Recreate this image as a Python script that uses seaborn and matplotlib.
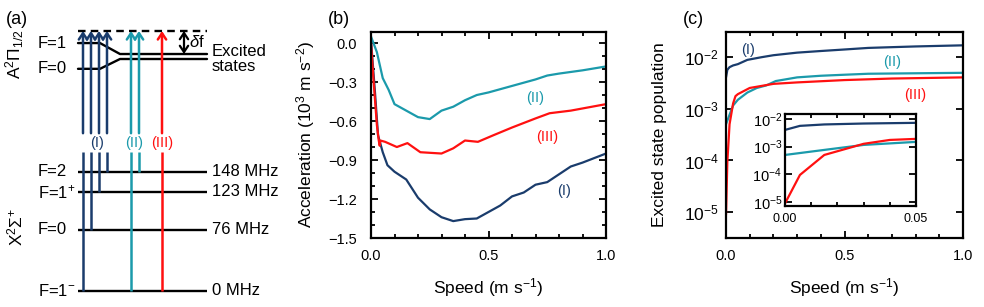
import matplotlib
matplotlib.use("Agg")
import matplotlib.pyplot as plt
import seaborn as sns
import pandas as pd
from matplotlib.ticker import MultipleLocator, LogLocator, NullLocator, FixedLocator

sns.set_style("ticks")
plt.rcParams['font.family'] = ['Liberation Sans', 'DejaVu Sans']
plt.rcParams['mathtext.fontset'] = 'custom'
plt.rcParams['mathtext.rm'] = 'Liberation Sans'
plt.rcParams['mathtext.it'] = 'Liberation Sans:italic'
plt.rcParams['mathtext.bf'] = 'Liberation Sans:bold'
plt.rcParams['axes.unicode_minus'] = True
for k in ['text.color', 'axes.labelcolor', 'xtick.color', 'ytick.color', 'axes.edgecolor']:
    plt.rcParams[k] = 'black'

NAVY = '#1a3c6c'
TEAL = '#1b9aab'
RED = '#ff1010'

# ---------------- panel (a) data: level diagram ----------------
ground_labels = ["F=1$^{-}$", "F=0", "F=1$^{+}$", "F=2"]
ground_mhz = [0, 76, 123, 148]
ground_text = ["0 MHz", "76 MHz", "123 MHz", "148 MHz"]
excited_labels = ["F=1", "F=0"]
# transitions: (ground level index, laser group)
trans_level = [0, 1, 2, 3, 0, 3, 0]
trans_group = ["I", "I", "I", "I", "II", "II", "III"]
group_names = ["(I)", "(II)", "(III)"]

# ---------------- panel (b) data ----------------
speed_b1 = [0, 0.017, 0.03, 0.05, 0.07, 0.1, 0.15, 0.2, 0.25, 0.3, 0.35, 0.4, 0.45,
            0.5, 0.55, 0.6, 0.65, 0.7, 0.75, 0.8, 0.85, 0.9, 1.0]
acc_b1 = [0.02, -0.38, -0.71, -0.84, -0.94, -0.99, -1.05, -1.19, -1.28, -1.34, -1.37,
          -1.355, -1.35, -1.30, -1.25, -1.18, -1.15, -1.09, -1.07, -1.01, -0.95, -0.92, -0.85]
speed_b2 = [0, 0.025, 0.05, 0.075, 0.1, 0.15, 0.2, 0.25, 0.3, 0.35, 0.4, 0.45, 0.5,
            0.6, 0.7, 0.75, 0.8, 0.9, 1.0]
acc_b2 = [0.05, -0.07, -0.27, -0.36, -0.47, -0.52, -0.57, -0.585, -0.52, -0.49, -0.44,
          -0.40, -0.38, -0.33, -0.28, -0.25, -0.235, -0.21, -0.18]
speed_b3 = [0, 0.01, 0.025, 0.033, 0.037, 0.04, 0.06, 0.11, 0.155, 0.21, 0.3, 0.35,
            0.4, 0.455, 0.52, 0.6, 0.7, 0.76, 0.85, 1.0]
acc_b3 = [0.0, -0.27, -0.63, -0.75, -0.79, -0.75, -0.76, -0.80, -0.77, -0.84, -0.85,
          -0.81, -0.75, -0.76, -0.71, -0.65, -0.58, -0.54, -0.52, -0.47]

# ---------------- panel (c) data ----------------
speed_c1 = [0, 0.0057, 0.015, 0.03, 0.05, 0.09, 0.15, 0.2, 0.3, 0.4, 0.5, 0.6, 0.7, 0.8, 0.9, 1.0]
pop_c1 = [4.0e-3, 5.6e-3, 6.3e-3, 6.8e-3, 7.2e-3, 8.7e-3, 9.8e-3, 1.07e-2, 1.2e-2, 1.29e-2,
          1.38e-2, 1.48e-2, 1.53e-2, 1.58e-2, 1.62e-2, 1.66e-2]
speed_c2 = [0, 0.015, 0.03, 0.05, 0.09, 0.13, 0.17, 0.21, 0.3, 0.4, 0.5, 0.6, 0.8, 1.0]
pop_c2 = [5.0e-4, 7.6e-4, 1.15e-3, 1.48e-3, 2.04e-3, 2.5e-3, 2.8e-3, 3.4e-3, 4.0e-3, 4.3e-3,
          4.5e-3, 4.7e-3, 4.8e-3, 4.9e-3]
speed_c3 = [0, 0.0057, 0.015, 0.03, 0.04, 0.05, 0.1, 0.2, 0.3, 0.5, 0.7, 1.0]
pop_c3 = [8.9e-6, 9.5e-5, 5.0e-4, 1.26e-3, 1.74e-3, 1.9e-3, 2.5e-3, 3.0e-3, 3.2e-3,
          3.55e-3, 3.8e-3, 4.0e-3]

W, H = 984, 307
fig = plt.figure(figsize=(W / 100, H / 100), dpi=100)

FS_TICK = 10.5
FS_LAB = 12.5
FS_LEVEL = 12
FS_TAG = 10.5


def style_axes(ax, pad_x=8, pad_y=8, fs=FS_TICK, fsy=None):
    for s in ax.spines.values():
        s.set_linewidth(1.6)
        s.set_color('black')
    ax.tick_params(which='both', direction='in', top=True, right=True, width=1.3,
                   colors='black', labelsize=fs)
    ax.tick_params(which='major', length=5)
    ax.tick_params(which='minor', length=3)
    ax.tick_params(axis='x', which='both', pad=pad_x)
    ax.tick_params(axis='y', which='both', pad=pad_y)
    if fsy is not None:
        ax.tick_params(axis='y', labelsize=fsy)


# ================= panel (a) =================
axA = fig.add_axes([0, 0, 280 / W, 1])
axA.set_xlim(0, 280)
axA.set_ylim(-19.9, 361.5)
axA.axis('off')
LX0, LX1 = 78, 207
lw = 1.7
axA.hlines(ground_mhz, LX0, LX1, color='black', lw=lw)
for lab, y, t in zip(ground_labels, ground_mhz, ground_text):
    axA.text(38, y, lab, ha='left', va='center', fontsize=FS_LEVEL)
    axA.text(212, y, t, ha='left', va='center', fontsize=FS_LEVEL)
# excited states (schematic)
y_top = 323
y_F1, y_F0 = 308, 276
y_m1, y_m0 = 294.4, 288.2
axA.plot([LX0, 100, 120, LX1], [y_F1, y_F1, y_m1, y_m1], color='black', lw=lw)
axA.plot([LX0, 100, 120, LX1], [y_F0, y_F0, y_m0, y_m0], color='black', lw=lw)
axA.text(38, y_F1, excited_labels[0], ha='left', va='center', fontsize=FS_LEVEL)
axA.text(38, y_F0, excited_labels[1], ha='left', va='center', fontsize=FS_LEVEL)
axA.plot([LX0, LX1], [y_top, y_top], color='black', lw=lw, ls=(0, (3.2, 2.2)))
axA.annotate('', xy=(184, y_top), xytext=(184, y_m1),
             arrowprops=dict(arrowstyle='<->,head_length=0.45,head_width=0.3',
                             lw=1.6, color='black', shrinkA=0, shrinkB=0))
axA.text(189, 309, r'$\delta$f', ha='left', va='center', fontsize=FS_LEVEL)
axA.text(212, 297, 'Excited', ha='left', va='center', fontsize=FS_LEVEL)
axA.text(212, 279, 'states', ha='left', va='center', fontsize=FS_LEVEL)
axA.text(15, 294, r'A$^2\Pi_{1/2}$', rotation=90, ha='center', va='center', fontsize=12.5)
axA.text(15, 80, r'X$^2\Sigma^{+}$', rotation=90, ha='center', va='center', fontsize=12.5)

gcol = {"I": NAVY, "II": TEAL, "III": RED}
trans_x = [83, 91, 99, 107, 131, 139, 162]
for x, li, g in zip(trans_x, trans_level, trans_group):
    c = gcol[g]
    axA.vlines(x, ground_mhz[li], 172.7, color=c, lw=1.8)
    axA.annotate('', xy=(x, y_top), xytext=(x, 196),
                 arrowprops=dict(arrowstyle='->,head_length=0.45,head_width=0.3',
                                 lw=1.8, color=c, shrinkA=0, shrinkB=0))
for name, x, c in zip(group_names, [97, 134, 162], [NAVY, TEAL, RED]):
    axA.text(x, 184, name, ha='center', va='center', fontsize=FS_TAG, color=c)

# ================= panel (b) =================
axB = fig.add_axes([371 / W, 1 - 238 / H, 235 / W, 206 / H])
for sp, ac, c in [(speed_b1, acc_b1, NAVY), (speed_b2, acc_b2, TEAL), (speed_b3, acc_b3, RED)]:
    sns.lineplot(x=sp, y=ac, ax=axB, color=c, lw=1.6, sort=False, estimator=None)
axB.set_xlim(0, 1)
axB.set_ylim(-1.5, 0.085)
axB.xaxis.set_major_locator(MultipleLocator(0.5))
axB.xaxis.set_minor_locator(MultipleLocator(0.1))
axB.yaxis.set_major_locator(MultipleLocator(0.3))
axB.yaxis.set_minor_locator(MultipleLocator(0.1))
style_axes(axB, pad_x=8, pad_y=10)
axB.set_xlabel('Speed (m s$^{-1}$)', fontsize=FS_LAB, labelpad=9)
axB.set_ylabel('Acceleration (10$^{3}$ m s$^{-2}$)', fontsize=FS_LAB, labelpad=8)
axB.text(0.70, -0.42, '(II)', color=TEAL, ha='center', va='center', fontsize=FS_TAG)
axB.text(0.75, -0.72, '(III)', color=RED, ha='center', va='center', fontsize=FS_TAG)
axB.text(0.82, -1.14, '(I)', color=NAVY, ha='center', va='center', fontsize=FS_TAG)

# ================= panel (c) =================
axC = fig.add_axes([726 / W, 1 - 238 / H, 237 / W, 206 / H])
series_c = [(speed_c1, pop_c1, NAVY), (speed_c2, pop_c2, TEAL), (speed_c3, pop_c3, RED)]
for sp, pp, c in series_c:
    sns.lineplot(x=sp, y=pp, ax=axC, color=c, lw=1.6, sort=False, estimator=None)
axC.set_yscale('log')
axC.set_xlim(0, 1)
axC.set_ylim(3.2e-6, 3.0e-2)
axC.xaxis.set_major_locator(MultipleLocator(0.5))
axC.xaxis.set_minor_locator(MultipleLocator(0.1))
axC.yaxis.set_major_locator(LogLocator(base=10, numticks=10))
axC.yaxis.set_minor_locator(NullLocator())
style_axes(axC, pad_x=8, pad_y=5, fsy=12.5)
axC.set_xlabel('Speed (m s$^{-1}$)', fontsize=FS_LAB, labelpad=9)
axC.set_ylabel('Excited state population', fontsize=FS_LAB, labelpad=12)
axC.text(0.094, 1.35e-2, '(I)', color=NAVY, ha='center', va='center', fontsize=FS_TAG)
axC.text(0.70, 7.9e-3, '(II)', color=TEAL, ha='center', va='center', fontsize=FS_TAG)
axC.text(0.80, 1.8e-3, '(III)', color=RED, ha='center', va='center', fontsize=FS_TAG)

# inset
axI = fig.add_axes([785 / W, 1 - 206 / H, 131 / W, 92 / H])
axI.set_facecolor('white')
for sp, pp, c in series_c:
    sns.lineplot(x=sp, y=pp, ax=axI, color=c, lw=1.6, sort=False, estimator=None)
axI.set_yscale('log')
axI.set_xlim(0, 0.05)
axI.set_ylim(7.2e-6, 1.5e-2)
axI.xaxis.set_major_locator(FixedLocator([0, 0.05]))
axI.xaxis.set_minor_locator(MultipleLocator(0.01))
axI.set_xticklabels(['0.00', '0.05'])
axI.yaxis.set_major_locator(LogLocator(base=10, numticks=10))
axI.yaxis.set_minor_locator(NullLocator())
style_axes(axI, pad_x=5, pad_y=2, fs=9, fsy=10.5)
axI.set_xlabel('')
axI.set_ylabel('')

# panel tags
for t, x in [('(a)', 6), ('(b)', 328), ('(c)', 683)]:
    fig.text(x / W, 1 - 20 / H, t, ha='left', va='center', fontsize=13)

fig.savefig('out.png', dpi=100)
